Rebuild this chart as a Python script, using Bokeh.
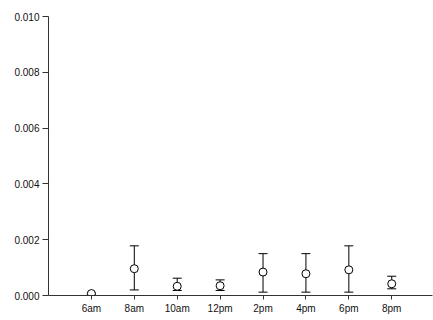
from bokeh.plotting import figure
from bokeh.models import ColumnDataSource, Whisker, FixedTicker, Range1d, PrintfTickFormatter
from bokeh.embed import file_html
from bokeh.resources import INLINE

# data
hour_labels = ["6am", "8am", "10am", "12pm", "2pm", "4pm", "6pm", "8pm"]
hours = [6, 8, 10, 12, 14, 16, 18, 20]
mean = [0.00007, 0.00096, 0.00033, 0.00035, 0.00084, 0.00078, 0.00092, 0.00042]
upper = [0.00010, 0.00178, 0.00062, 0.00056, 0.00150, 0.00150, 0.00178, 0.00069]
lower = [0.00004, 0.00020, 0.00018, 0.00018, 0.00012, 0.00012, 0.00012, 0.00024]
y_ticks = [0.0, 0.002, 0.004, 0.006, 0.008, 0.010]

src = ColumnDataSource(dict(x=hours, y=mean, upper=upper, lower=lower))

p = figure(width=433, height=320, output_backend="svg", toolbar_location=None,
           x_range=Range1d(4, 21.9), y_range=Range1d(0, 0.010),
           min_border_left=48, min_border_top=16, min_border_right=1, min_border_bottom=25)
p.outline_line_color = None
p.xgrid.visible = False
p.ygrid.visible = False
p.background_fill_color = "white"
p.border_fill_color = "white"

w = Whisker(source=src, base="x", upper="upper", lower="lower",
            line_color="black", line_width=1)
w.upper_head.size = 9
w.lower_head.size = 9
w.upper_head.line_color = "black"
w.lower_head.line_color = "black"
p.add_layout(w)

p.scatter("x", "y", source=src, size=8, fill_color="white", line_color="black", line_width=1)

font = "Liberation Sans"
p.xaxis.ticker = FixedTicker(ticks=hours)
p.xaxis.major_label_overrides = {h: l for h, l in zip(hours, hour_labels)}
p.xaxis.major_tick_in = 0
p.xaxis.major_tick_out = 4
p.xaxis.minor_tick_line_color = None
p.xaxis.major_label_standoff = 3
p.yaxis.ticker = FixedTicker(ticks=y_ticks)
p.yaxis.formatter = PrintfTickFormatter(format="%.3f")
p.yaxis.major_tick_in = 0
p.yaxis.major_tick_out = 6
p.yaxis.minor_tick_line_color = None
p.yaxis.major_label_standoff = 3
for ax in (p.xaxis, p.yaxis):
    ax.axis_line_color = "#333333"
    ax.major_tick_line_color = "#333333"
    ax.major_label_text_font = font
    ax.major_label_text_font_size = "10px"
    ax.major_label_text_color = "#111111"

open("out.html", "w").write(file_html(p, INLINE))
